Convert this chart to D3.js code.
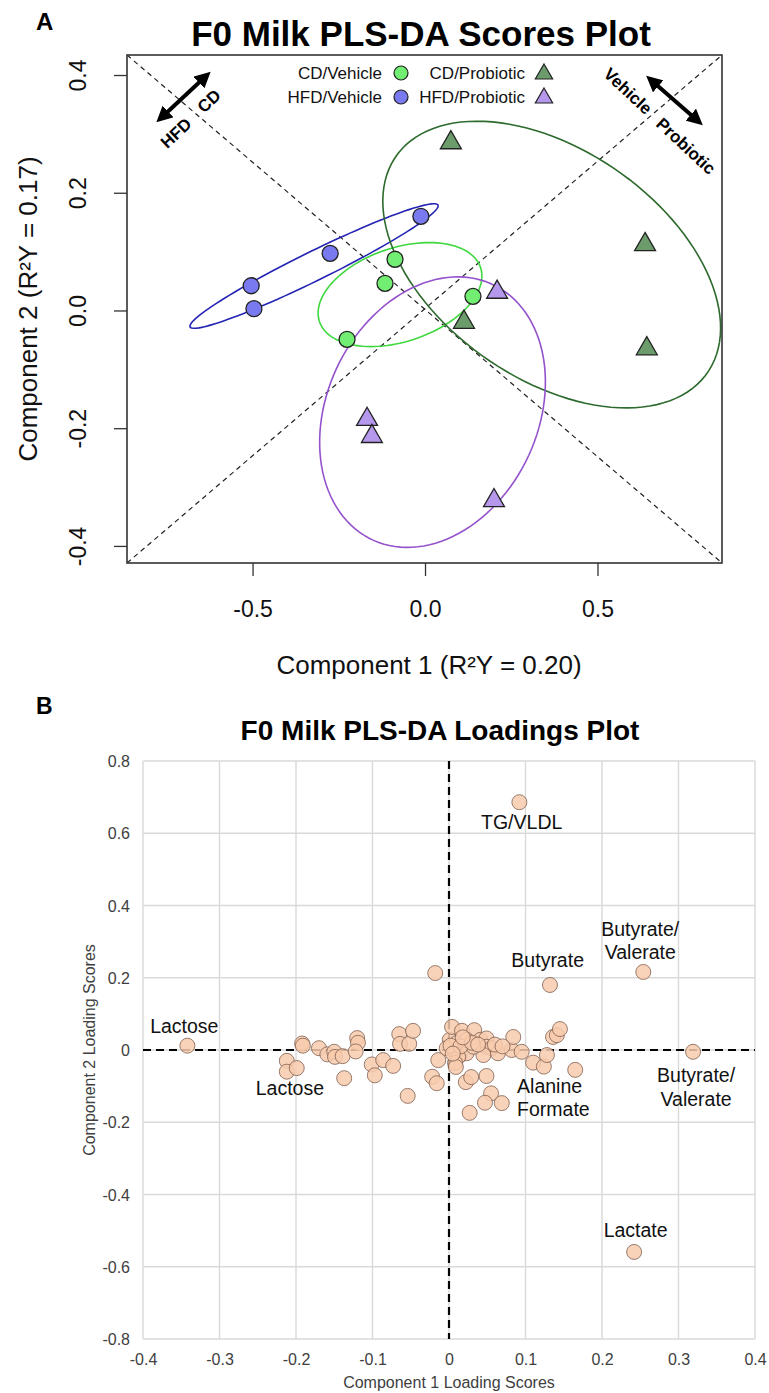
<!DOCTYPE html>
<html>
<head>
<meta charset="utf-8">
<script src="https://cdn.jsdelivr.net/npm/d3@7"></script>
<style>
  body { margin: 0; background: #fff; }
  svg { display: block; font-family: "Liberation Sans", Arial, Helvetica, sans-serif; }
</style>
</head>
<body>
<svg id="chart" width="769" height="1393"></svg>
<script>
// ---------------- data: panel A (scores) ----------------
const groupNames = ["CD/Vehicle", "HFD/Vehicle", "CD/Probiotic", "HFD/Probiotic"];

const cdVehicleX  = [-0.087, -0.116, 0.139, -0.226];
const cdVehicleY  = [ 0.087,  0.046, 0.024, -0.049];
const hfdVehicleX = [-0.012, -0.275, -0.504, -0.496];
const hfdVehicleY = [ 0.160,  0.097,  0.042,  0.003];
const cdProbX     = [ 0.075,  0.638,  0.643,  0.113];
const cdProbY     = [ 0.285,  0.112, -0.065, -0.020];
const hfdProbX    = [ 0.209, -0.168, -0.154,  0.200];
const hfdProbY    = [ 0.031, -0.185, -0.214, -0.323];

const scoreTicksX = [-0.5, 0.0, 0.5];
const scoreTicksY = [-0.4, -0.2, 0.0, 0.2, 0.4];

// ---------------- data: panel B (loadings) ----------------
const loadX = [
  -0.342, -0.192, -0.191, -0.212, -0.212, -0.199, -0.170, -0.159, -0.150, -0.149,
  -0.139, -0.137, -0.120, -0.119, -0.122, -0.101, -0.097, -0.086, -0.073, -0.065,
  -0.064, -0.052, -0.047, -0.054, -0.022, -0.016, -0.014, -0.018,
   0.001,  0.004,  0.017,  0.033,  0.010, -0.003,  0.008,  0.014,  0.023,  0.023,
   0.041,  0.049,  0.049,  0.056,  0.045,  0.064,  0.082,  0.095,  0.084,  0.032,
   0.012,  0.008,  0.009,  0.022,  0.029,  0.049,  0.055,  0.047,  0.069,  0.027,
   0.110,  0.124,  0.128,  0.165,  0.136,  0.141,  0.145,  0.002,  0.015,  0.030,
   0.005,  0.038,  0.060,  0.070,  0.018,
   0.132,  0.254,  0.319,  0.242,  0.092
];
const loadY = [
   0.012,  0.018,  0.012, -0.030, -0.060, -0.050,  0.005, -0.012, -0.005, -0.019,
  -0.017, -0.078,  0.033,  0.020, -0.004, -0.040, -0.070, -0.028, -0.044,  0.044,
   0.017,  0.017,  0.053, -0.127, -0.074, -0.092, -0.028,  0.213,
   0.028,  0.064,  0.053,  0.055,  0.019,  0.005, -0.005, -0.014, -0.009,  0.028,
   0.028,  0.032,  0.009,  0.005, -0.014, -0.009,  0.000, -0.005,  0.036,  0.009,
  -0.019, -0.036, -0.047, -0.089, -0.075, -0.072, -0.120, -0.146, -0.147, -0.174,
  -0.035, -0.046, -0.014, -0.055,  0.036,  0.041,  0.058,  0.012,  0.010,  0.020,
  -0.010,  0.015,  0.015,  0.010,  0.035,
   0.180,  0.216, -0.005, -0.559,  0.686
];

const loadTicksX = [-0.4, -0.3, -0.2, -0.1, 0, 0.1, 0.2, 0.3, 0.4];
const loadTicksY = [-0.8, -0.6, -0.4, -0.2, 0, 0.2, 0.4, 0.6, 0.8];

// подписи метаболитов (в координатах данных)
const labelLines  = [["TG/VLDL"], ["Butyrate/", "Valerate"], ["Butyrate"], ["Lactose"], ["Lactose"],
                     ["Alanine", "Formate"], ["Butyrate/", "Valerate"], ["Lactate"]];
const labelX      = [0.095, 0.250, 0.129, -0.346, -0.208, 0.089, 0.323, 0.244];
const labelY      = [0.612, 0.316, 0.230,  0.047, -0.125, -0.119, -0.089, -0.518];
const labelAnchor = ["middle", "middle", "middle", "middle", "middle", "start", "middle", "middle"];

// ---------------- drawing ----------------
const svg = d3.select("#chart");

// ===== panel A =====
const boxA = {left: 127, right: 722, top: 55, bottom: 563};
const xA = d3.scaleLinear().domain([-0.864, 0.861]).range([boxA.left, boxA.right]);
const yA = d3.scaleLinear().domain([-0.429, 0.434]).range([boxA.bottom, boxA.top]);

svg.append("text").attr("x", 36).attr("y", 30)
  .style("font-size", "24px").style("font-weight", "bold").text("A");

svg.append("text").attr("x", 421).attr("y", 46).attr("text-anchor", "middle")
  .style("font-size", "35px").style("font-weight", "bold")
  .text("F0 Milk PLS-DA Scores Plot");

svg.append("defs").append("clipPath").attr("id", "clipA")
  .append("rect")
  .attr("x", boxA.left).attr("y", boxA.top)
  .attr("width", boxA.right - boxA.left).attr("height", boxA.bottom - boxA.top);

const plotA = svg.append("g").attr("clip-path", "url(#clipA)");

// диагонали
const [dx0, dx1] = xA.domain(), [dy0, dy1] = yA.domain();
plotA.append("line")
  .attr("x1", xA(dx0)).attr("y1", yA(dy1)).attr("x2", xA(dx1)).attr("y2", yA(dy0))
  .attr("stroke", "#222").attr("stroke-width", 1.2).attr("stroke-dasharray", "5,4");
plotA.append("line")
  .attr("x1", xA(dx0)).attr("y1", yA(dy0)).attr("x2", xA(dx1)).attr("y2", yA(dy1))
  .attr("stroke", "#222").attr("stroke-width", 1.2).attr("stroke-dasharray", "5,4");

const groups = [
  {name: groupNames[0], xs: cdVehicleX,  ys: cdVehicleY,  shape: "circle",   fill: "#72ee72", line: "#3ed83e"},
  {name: groupNames[1], xs: hfdVehicleX, ys: hfdVehicleY, shape: "circle",   fill: "#7a7af0", line: "#2424b4"},
  {name: groupNames[2], xs: cdProbX,     ys: cdProbY,     shape: "triangle", fill: "#6c9c6c", line: "#2d6a2d"},
  {name: groupNames[3], xs: hfdProbX,    ys: hfdProbY,    shape: "triangle", fill: "#b597ec", line: "#9452cc"}
];

// эллипс по ковариации группы
function ellipsePoints(xs, ys, k) {
  const n = xs.length;
  const mx = d3.mean(xs), my = d3.mean(ys);
  let sxx = 0, syy = 0, sxy = 0;
  for (let i = 0; i < n; i++) {
    const ex = xs[i] - mx, ey = ys[i] - my;
    sxx += ex * ex; syy += ey * ey; sxy += ex * ey;
  }
  sxx /= (n - 1); syy /= (n - 1); sxy /= (n - 1);
  const m = (sxx + syy) / 2, r = Math.sqrt(((sxx - syy) / 2) ** 2 + sxy * sxy);
  const l1 = m + r, l2 = Math.max(m - r, 0);
  const th = 0.5 * Math.atan2(2 * sxy, sxx - syy);
  return d3.range(0, 121).map(i => {
    const p = i / 120 * 2 * Math.PI;
    const u = k * Math.sqrt(l1) * Math.cos(p), v = k * Math.sqrt(l2) * Math.sin(p);
    return [mx + u * Math.cos(th) - v * Math.sin(th), my + u * Math.sin(th) + v * Math.cos(th)];
  });
}

const ellLine = d3.line().x(d => xA(d[0])).y(d => yA(d[1]));
groups.forEach(g => {
  plotA.append("path")
    .attr("d", ellLine(ellipsePoints(g.xs, g.ys, 1.55)))
    .attr("fill", "none").attr("stroke", g.line).attr("stroke-width", 1.6);
});

const triSym = d3.symbol().type(d3.symbolTriangle).size(190);
groups.forEach(g => {
  const pts = g.xs.map((x, i) => ({x: x, y: g.ys[i]}));
  if (g.shape === "circle") {
    plotA.selectAll(null).data(pts).enter().append("circle")
      .attr("cx", d => xA(d.x)).attr("cy", d => yA(d.y)).attr("r", 8)
      .attr("fill", g.fill).attr("stroke", "#222").attr("stroke-width", 1.3);
  } else {
    plotA.selectAll(null).data(pts).enter().append("path")
      .attr("d", triSym)
      .attr("transform", d => `translate(${xA(d.x)},${yA(d.y)})`)
      .attr("fill", g.fill).attr("stroke", "#222").attr("stroke-width", 1.3);
  }
});

// легенда
const legendCols = [382, 525];
const legendRows = [73, 97];
groups.forEach((g, i) => {
  const col = i < 2 ? 0 : 1, row = i % 2;
  const lx = legendCols[col], ly = legendRows[row];
  svg.append("text").attr("x", lx).attr("y", ly).attr("dy", "0.35em")
    .attr("text-anchor", "end").style("font-size", "17px").attr("fill", "#111").text(g.name);
  if (g.shape === "circle") {
    svg.append("circle").attr("cx", lx + 19).attr("cy", ly).attr("r", 7)
      .attr("fill", g.fill).attr("stroke", "#222").attr("stroke-width", 1.2);
  } else {
    svg.append("path").attr("d", d3.symbol().type(d3.symbolTriangle).size(130)())
      .attr("transform", `translate(${lx + 19},${ly + 1})`)
      .attr("fill", g.fill).attr("stroke", "#222").attr("stroke-width", 1.2);
  }
});

// стрелки в углах
const defs = svg.select("defs");
defs.append("marker").attr("id", "head")
  .attr("viewBox", "0 0 10 10").attr("refX", 6).attr("refY", 5)
  .attr("markerWidth", 4).attr("markerHeight", 4)
  .attr("orient", "auto-start-reverse")
  .append("path").attr("d", "M0,0 L10,5 L0,10 Z").attr("fill", "#000");

svg.append("line").attr("x1", 161).attr("y1", 118).attr("x2", 206).attr("y2", 76)
  .attr("stroke", "#000").attr("stroke-width", 4)
  .attr("marker-start", "url(#head)").attr("marker-end", "url(#head)");
svg.append("line").attr("x1", 651).attr("y1", 80).attr("x2", 698).attr("y2", 121)
  .attr("stroke", "#000").attr("stroke-width", 4)
  .attr("marker-start", "url(#head)").attr("marker-end", "url(#head)");

const cornerText = (txt, x, y, ang) => svg.append("text")
  .attr("transform", `translate(${x},${y}) rotate(${ang})`)
  .attr("text-anchor", "middle").attr("dy", "0.35em")
  .style("font-size", "17px").style("font-weight", "bold").text(txt);
cornerText("HFD", 176, 133, -43);
cornerText("CD", 209, 101, -43);
cornerText("Vehicle", 628, 91, 43);
cornerText("Probiotic", 686, 146, 43);

// оси
const axA = svg.append("g").attr("transform", `translate(0,${boxA.bottom})`)
  .call(d3.axisBottom(xA).tickValues(scoreTicksX).tickFormat(d => d.toFixed(1)).tickSize(13));
axA.select(".domain").remove();
axA.selectAll("line").attr("stroke", "#333").attr("stroke-width", 1.3);
axA.selectAll("text").attr("y", 54).attr("dy", 0)
  .style("font-size", "23px").attr("fill", "#111").style("font-family", null);

const ayA = svg.append("g").attr("transform", `translate(${boxA.left},0)`)
  .call(d3.axisLeft(yA).tickValues(scoreTicksY).tickFormat(d => d.toFixed(1)).tickSize(13));
ayA.select(".domain").remove();
ayA.selectAll("line").attr("stroke", "#333").attr("stroke-width", 1.3);
ayA.selectAll("text").attr("x", 0).attr("y", -41).attr("dy", 0)
  .attr("transform", "rotate(-90)").attr("text-anchor", "middle")
  .style("font-size", "23px").attr("fill", "#111").style("font-family", null);

svg.append("rect")
  .attr("x", boxA.left).attr("y", boxA.top)
  .attr("width", boxA.right - boxA.left).attr("height", boxA.bottom - boxA.top)
  .attr("fill", "none").attr("stroke", "#333").attr("stroke-width", 1.6);

svg.append("text").attr("x", 429).attr("y", 674).attr("text-anchor", "middle")
  .style("font-size", "26px").attr("fill", "#111").text("Component 1 (R²Y = 0.20)");
svg.append("text").attr("transform", `translate(37,${(boxA.top + boxA.bottom) / 2}) rotate(-90)`)
  .attr("text-anchor", "middle")
  .style("font-size", "26px").attr("fill", "#111").text("Component 2 (R²Y = 0.17)");

// ===== panel B =====
const boxB = {left: 143, right: 755, top: 761, bottom: 1339};
const xB = d3.scaleLinear().domain([-0.4, 0.4]).range([boxB.left, boxB.right]);
const yB = d3.scaleLinear().domain([-0.8, 0.8]).range([boxB.bottom, boxB.top]);
const fmtB = d => d === 0 ? "0" : d.toFixed(1);

svg.append("text").attr("x", 36).attr("y", 714)
  .style("font-size", "23px").style("font-weight", "bold").text("B");
svg.append("text").attr("x", 440).attr("y", 740).attr("text-anchor", "middle")
  .style("font-size", "28px").style("font-weight", "bold")
  .text("F0 Milk PLS-DA Loadings Plot");

const gridB = svg.append("g");
gridB.selectAll(".gx").data(loadTicksX).enter().append("line")
  .attr("x1", d => xB(d)).attr("x2", d => xB(d))
  .attr("y1", boxB.top).attr("y2", boxB.bottom)
  .attr("stroke", "#d9d9d9").attr("stroke-width", 1.4);
gridB.selectAll(".gy").data(loadTicksY).enter().append("line")
  .attr("y1", d => yB(d)).attr("y2", d => yB(d))
  .attr("x1", boxB.left).attr("x2", boxB.right)
  .attr("stroke", "#d9d9d9").attr("stroke-width", 1.4);

// нулевые линии
svg.append("line").attr("x1", xB(0)).attr("x2", xB(0)).attr("y1", boxB.top).attr("y2", boxB.bottom)
  .attr("stroke", "#000").attr("stroke-width", 2.2).attr("stroke-dasharray", "8,5");
svg.append("line").attr("x1", boxB.left).attr("x2", boxB.right).attr("y1", yB(0)).attr("y2", yB(0))
  .attr("stroke", "#000").attr("stroke-width", 2.2).attr("stroke-dasharray", "8,5");

const loadPts = loadX.map((x, i) => ({x: x, y: loadY[i]}));
svg.append("g").selectAll("circle").data(loadPts).enter().append("circle")
  .attr("cx", d => xB(d.x)).attr("cy", d => yB(d.y)).attr("r", 7.5)
  .attr("fill", "#f8cbad").attr("fill-opacity", 0.85)
  .attr("stroke", "#7d6050").attr("stroke-width", 0.8);

labelLines.forEach((lines, i) => {
  const t = svg.append("text")
    .attr("x", xB(labelX[i])).attr("y", yB(labelY[i]))
    .attr("text-anchor", labelAnchor[i])
    .style("font-size", "19.5px").attr("fill", "#111");
  lines.forEach((s, j) => {
    t.append("tspan").attr("x", xB(labelX[i])).attr("dy", j === 0 ? 0 : 23.5).text(s);
  });
});

const axB = svg.append("g").attr("transform", `translate(0,${boxB.bottom})`)
  .call(d3.axisBottom(xB).tickValues(loadTicksX).tickFormat(fmtB).tickSize(0));
axB.select(".domain").remove();
axB.selectAll("text").attr("y", 26).attr("dy", 0)
  .style("font-size", "16px").attr("fill", "#404040").style("font-family", null);

const ayB = svg.append("g").attr("transform", `translate(${boxB.left},0)`)
  .call(d3.axisLeft(yB).tickValues(loadTicksY).tickFormat(fmtB).tickSize(0));
ayB.select(".domain").remove();
ayB.selectAll("text").attr("x", -13).attr("dy", "0.35em")
  .style("font-size", "16px").attr("fill", "#404040").style("font-family", null);

svg.append("text").attr("x", xB(0)).attr("y", 1388).attr("text-anchor", "middle")
  .style("font-size", "16px").attr("fill", "#404040").text("Component 1 Loading Scores");
svg.append("text").attr("transform", `translate(95,${yB(0)}) rotate(-90)`)
  .attr("text-anchor", "middle")
  .style("font-size", "16px").attr("fill", "#404040").text("Component 2 Loading Scores");
</script>
</body>
</html>
